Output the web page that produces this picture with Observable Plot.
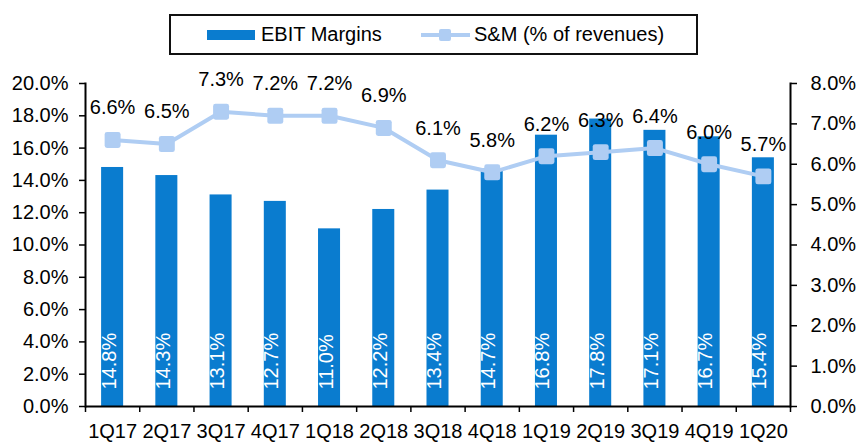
<!DOCTYPE html>
<html>
<head>
<meta charset="utf-8">
<script src="https://cdn.jsdelivr.net/npm/d3@7"></script>
<script src="https://cdn.jsdelivr.net/npm/@observablehq/plot@0.6"></script>
<style>
  html, body { margin: 0; padding: 0; background: #fff; }
  body { font-family: "Liberation Sans", Arial, sans-serif; color: #000; width: 860px; }
  #legend { position: relative; width: 860px; height: 60px; }
  #legend .box { position: absolute; left: 169px; top: 14px; width: 525px; height: 37px; border: 2px solid #111; }
  #legend .swatch-bar { position: absolute; left: 207px; top: 30px; width: 48px; height: 10px; background: #0a7ccf; }
  #legend .swatch-line { position: absolute; left: 421px; top: 33px; width: 49px; height: 4px; background: #afcdf3; }
  #legend .swatch-mark { position: absolute; left: 439px; top: 29px; width: 12px; height: 12px; border-radius: 2px; background: #afcdf3; }
  #legend .lab { position: absolute; top: 22px; font-size: 20px; line-height: 24px; white-space: nowrap; }
</style>
</head>
<body>
<div id="legend">
  <div class="box"></div>
  <div class="swatch-bar"></div>
  <div class="lab" style="left:261px">EBIT Margins</div>
  <div class="swatch-line"></div>
  <div class="swatch-mark"></div>
  <div class="lab" style="left:474px">S&amp;M (% of revenues)</div>
</div>
<div id="chart"></div>
<script>
const quarters = ["1Q17","2Q17","3Q17","4Q17","1Q18","2Q18","3Q18","4Q18","1Q19","2Q19","3Q19","4Q19","1Q20"];
const ebitMargins = [14.8, 14.3, 13.1, 12.7, 11.0, 12.2, 13.4, 14.7, 16.8, 17.8, 17.1, 16.7, 15.4];
const smPctRevenue = [6.6, 6.5, 7.3, 7.2, 7.2, 6.9, 6.1, 5.8, 6.2, 6.3, 6.4, 6.0, 5.7];
const leftTicks = [0, 2, 4, 6, 8, 10, 12, 14, 16, 18, 20];
const rightTicks = [0, 1, 2, 3, 4, 5, 6, 7, 8];

const data = quarters.map((q, i) => ({q, ebit: ebitMargins[i], sm: smPctRevenue[i]}));

const W = 860, H = 383, ML = 85, MR = 70, MT = 23, MB = 37;
const step = (W - ML - MR) / quarters.length;
const k = 20 / 8; // right axis (0–8%) mapped onto left axis (0–20%)
const barColor = "#0a7ccf";
const lineColor = "#afcdf3";
const fmt = d => d.toFixed(1) + "%";

const roundSquare = {
  draw(ctx, size) {
    const s = Math.sqrt(size) / 2, r = s * 0.3;
    ctx.moveTo(-s + r, -s);
    ctx.lineTo(s - r, -s);
    ctx.arcTo(s, -s, s, -s + r, r);
    ctx.lineTo(s, s - r);
    ctx.arcTo(s, s, s - r, s, r);
    ctx.lineTo(-s + r, s);
    ctx.arcTo(-s, s, -s, s - r, r);
    ctx.lineTo(-s, -s + r);
    ctx.arcTo(-s, -s, -s + r, -s, r);
    ctx.closePath();
  }
};

const chart = Plot.plot({
  width: W, height: H,
  marginLeft: ML, marginRight: MR, marginTop: MT, marginBottom: MB,
  style: {fontFamily: '"Liberation Sans", Arial, sans-serif', fontSize: "20px", color: "#000", background: "#fff", overflow: "visible"},
  x: {domain: quarters, paddingInner: 0.594, paddingOuter: 0.297, round: false, axis: null, label: null},
  y: {domain: [0, 20], axis: null, label: null},
  marks: [
    Plot.barY(data, {x: "q", y: "ebit", fill: barColor}),
    Plot.text(data, {x: "q", frameAnchor: "bottom", text: d => fmt(d.ebit), rotate: -90, textAnchor: "start", dy: -17, dx: 3, fill: "white", fontSize: 20}),
    Plot.line(data, {x: "q", y: d => d.sm * k, stroke: lineColor, strokeWidth: 4}),
    Plot.dot(data, {x: "q", y: d => d.sm * k, symbol: roundSquare, r: 9, fill: lineColor, stroke: "none"}),
    Plot.text(data, {x: "q", y: d => d.sm * k, text: d => fmt(d.sm), dy: -32, fill: "#000", fontSize: 20}),
    Plot.axisY({ticks: leftTicks, anchor: "left", tickFormat: fmt, tickSize: 6, tickPadding: 11, strokeWidth: 1.5, label: null}),
    Plot.axisY({ticks: rightTicks.map(v => v * k), anchor: "right", tickFormat: d => fmt(d / k), tickSize: 6, tickPadding: 14, strokeWidth: 1.5, label: null}),
    Plot.axisX({anchor: "bottom", tickSize: 0, tickPadding: 17, label: null}),
    Plot.axisX({anchor: "bottom", tickSize: 6, dx: -step / 2, tickFormat: () => "", strokeWidth: 1.5, label: null}),
    Plot.axisX({anchor: "bottom", ticks: [quarters[quarters.length - 1]], tickSize: 6, dx: step / 2, tickFormat: () => "", strokeWidth: 1.5, label: null}),
    Plot.ruleY([0], {stroke: "#000", strokeWidth: 2}),
    Plot.frame({anchor: "left", stroke: "#000", strokeWidth: 2}),
    Plot.frame({anchor: "right", stroke: "#000", strokeWidth: 2})
  ]
});
document.getElementById("chart").appendChild(chart);
</script>
</body>
</html>
